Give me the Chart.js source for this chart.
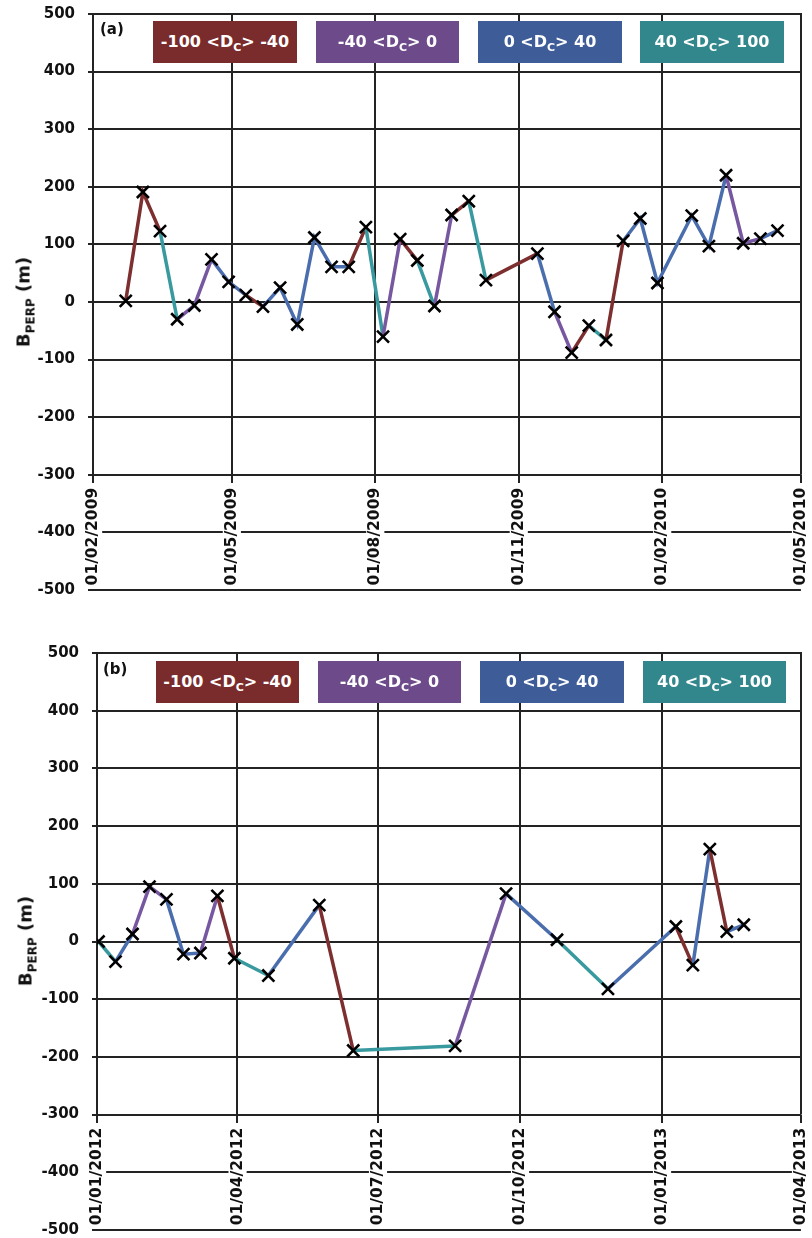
<!DOCTYPE html>
<html><head><meta charset="utf-8">
<script src="https://cdn.jsdelivr.net/npm/chart.js@4.4.1/dist/chart.umd.min.js"></script>
<style>
html,body{margin:0;padding:0;background:#fff;}
body{width:812px;height:1238px;position:relative;overflow:hidden;font-family:'DejaVu Sans',sans-serif;}
.panel{position:absolute;left:0;}
canvas{display:block;}
.lg{position:absolute;height:42px;color:#fff;font-weight:bold;font-size:16px;line-height:42px;text-align:center;white-space:nowrap;}
.lg sub{font-size:11px;vertical-align:-4px;line-height:0;}
.ytitle{position:absolute;font-weight:bold;font-size:18px;color:#111;white-space:nowrap;transform:translate(-50%,-50%) rotate(-90deg);}
.ytitle sub{font-size:12px;vertical-align:-5px;line-height:0;}
.plab{position:absolute;font-weight:bold;font-size:15px;line-height:18px;color:#111;}
</style></head><body>
<div class="panel" style="top:0;"><canvas id="cA" width="812" height="610"></canvas></div>
<div class="panel" style="top:620px;"><canvas id="cB" width="812" height="622"></canvas></div>
<script>
// ---- legend classes (D_C ranges) ----
const classLabels = ['-100 <D_C> -40', '-40 <D_C> 0', '0 <D_C> 40', '40 <D_C> 100'];
const classColors = ['#7a2b2b', '#6d4a8a', '#3d5c98', '#31878c'];
const lineColors  = ['#7d2e2e', '#7757a0', '#4a6dad', '#38999f'];

// ---- panel (a) ----
const datesA = ['2009-02-22','2009-03-05','2009-03-16','2009-03-27','2009-04-07','2009-04-18','2009-04-29',
  '2009-05-10','2009-05-21','2009-06-01','2009-06-12','2009-06-23','2009-07-04','2009-07-15','2009-07-26',
  '2009-08-06','2009-08-17','2009-08-28','2009-09-08','2009-09-19','2009-09-30','2009-10-11','2009-11-13',
  '2009-11-24','2009-12-05','2009-12-16','2009-12-27','2010-01-07','2010-01-18','2010-01-29','2010-02-20',
  '2010-03-03','2010-03-14','2010-03-25','2010-04-05','2010-04-16'];
const bperpA = [2,191,123,-30,-6,74,35,12,-8,25,-39,112,61,61,130,-60,109,72,-7,151,175,38,84,-17,-88,-41,-66,
  106,145,33,150,97,220,102,110,124];
const segClassA = [0,0,3,1,1,2,2,0,2,2,2,2,2,0,3,1,0,3,1,0,3,0,2,1,0,3,0,2,2,2,2,2,1,1,2];
const xTicksA = ['2009-02-01','2009-05-01','2009-08-01','2009-11-01','2010-02-01','2010-05-01'];

// ---- panel (b) ----
const datesB = ['2012-01-02','2012-01-13','2012-01-24','2012-02-04','2012-02-15','2012-02-26','2012-03-08',
  '2012-03-19','2012-03-30','2012-04-21','2012-05-24','2012-06-15','2012-08-20','2012-09-22','2012-10-25',
  '2012-11-27','2013-01-10','2013-01-21','2013-02-01','2013-02-12','2013-02-23'];
const bperpB = [0,-35,13,95,73,-22,-20,79,-29,-59,63,-189,-181,83,3,-82,26,-41,160,17,29];
const segClassB = [3,2,1,1,2,2,1,0,3,2,0,3,1,2,3,2,0,2,0,2];
const xTicksB = ['2012-01-01','2012-04-01','2012-07-01','2012-10-01','2013-01-01','2013-04-01'];

const yMin = -500, yMax = 500, yStep = 100, xAxisAt = -300;
const yTitleHtml = 'B<sub>PERP</sub> (m)';

const GRID = '#232323', TXT = '#111';
const dayOf = s => { const [y,m,d] = s.split('-').map(Number); return Date.UTC(y, m-1, d) / 864e5; };
const fmt = v => { const dt = new Date(Math.round(v) * 864e5);
  return String(dt.getUTCDate()).padStart(2,'0') + '/' + String(dt.getUTCMonth()+1).padStart(2,'0') + '/' + dt.getUTCFullYear(); };

const vGrid = {
  id: 'vGrid',
  beforeDatasetsDraw(chart) {
    const {ctx, chartArea, scales: {x, y}} = chart;
    const yb = y.getPixelForValue(xAxisAt);
    ctx.save(); ctx.strokeStyle = GRID; ctx.lineWidth = 2;
    x.ticks.forEach(t => {
      const px = Math.round(x.getPixelForValue(t.value));
      ctx.beginPath(); ctx.moveTo(px, chartArea.top - 1); ctx.lineTo(px, yb); ctx.stroke();
    });
    ctx.restore();
  }
};
const noPad = s => { s.paddingTop = 0; s.paddingBottom = 0; s.paddingLeft = 0; s.paddingRight = 0; };

function makeChart(id, dates, values, segClass, xTicks, yw, pad) {
  const font = {family: 'DejaVu Sans', weight: 'bold', size: 15};
  return new Chart(document.getElementById(id), {
    type: 'line',
    data: { datasets: [{
      data: dates.map((d, i) => ({x: dayOf(d), y: values[i]})),
      borderWidth: 3.5, borderColor: lineColors[2],
      segment: { borderColor: c => lineColors[segClass[c.p0DataIndex]] },
      pointStyle: 'crossRot', pointRadius: 8.5, pointBorderWidth: 2.6,
      pointBorderColor: '#000', pointBackgroundColor: '#000',
      tension: 0, fill: false
    }]},
    options: {
      responsive: false, animation: false,
      layout: { padding: { left: 0, right: pad.right, top: pad.top, bottom: pad.bottom } },
      plugins: { legend: {display: false}, tooltip: {enabled: false} },
      scales: {
        x: {
          type: 'linear', min: dayOf(xTicks[0]), max: dayOf(xTicks[xTicks.length - 1]),
          position: { y: xAxisAt },
          afterBuildTicks: s => { s.ticks = xTicks.map(d => ({value: dayOf(d)})); },
          afterFit: noPad,
          grid: { drawOnChartArea: false, drawTicks: true, tickLength: 8, color: GRID, lineWidth: 2 },
          border: { display: false },
          ticks: { minRotation: 90, maxRotation: 90, autoSkip: false, padding: 5, color: TXT,
            font: Object.assign({}, font, {size: 15.5, lineHeight: 0.01}), callback: v => fmt(v),
            showLabelBackdrop: true, backdropColor: '#fff',
            backdropPadding: {top: 9, bottom: 9, left: 1, right: 2} }
        },
        y: {
          min: yMin, max: yMax,
          ticks: { stepSize: yStep, padding: 13, color: TXT, font: Object.assign({}, font, {lineHeight: 1}) },
          grid: { color: GRID, lineWidth: 2, tickLength: 5 },
          border: { display: false },
          afterFit: s => { s.width = yw; noPad(s); }
        }
      }
    },
    plugins: [vGrid]
  });
}

makeChart('cA', datesA, bperpA, segClassA, xTicksA, 93, {right: 8, top: 14, bottom: 20});
makeChart('cB', datesB, bperpB, segClassB, xTicksB, 97, {right: 6, top: 33, bottom: 12});

// HTML overlays: legends, panel labels, axis titles
function addEl(cls, html, style) {
  const d = document.createElement('div'); d.className = cls; d.innerHTML = html;
  Object.assign(d.style, style); document.body.appendChild(d); return d;
}
const lgHtml = s => s.replace('<D_C>', '&lt;D<sub>C</sub>&gt;');
const legendA = [[153,144],[316,143],[478,144],[640,144]];
const legendB = [[156,143],[318,143],[480,144],[643,143]];
legendA.forEach((p, i) => addEl('lg', lgHtml(classLabels[i]), {left: p[0]+'px', top: '21px', width: p[1]+'px', background: classColors[i]}));
legendB.forEach((p, i) => addEl('lg', lgHtml(classLabels[i]), {left: p[0]+'px', top: '661px', width: p[1]+'px', background: classColors[i]}));
addEl('plab', '(a)', {left: '100px', top: '20px'});
addEl('plab', '(b)', {left: '103px', top: '660px'});
addEl('ytitle', yTitleHtml, {left: '23px', top: '302px'});
addEl('ytitle', yTitleHtml, {left: '25px', top: '941px'});
</script>
</body></html>
